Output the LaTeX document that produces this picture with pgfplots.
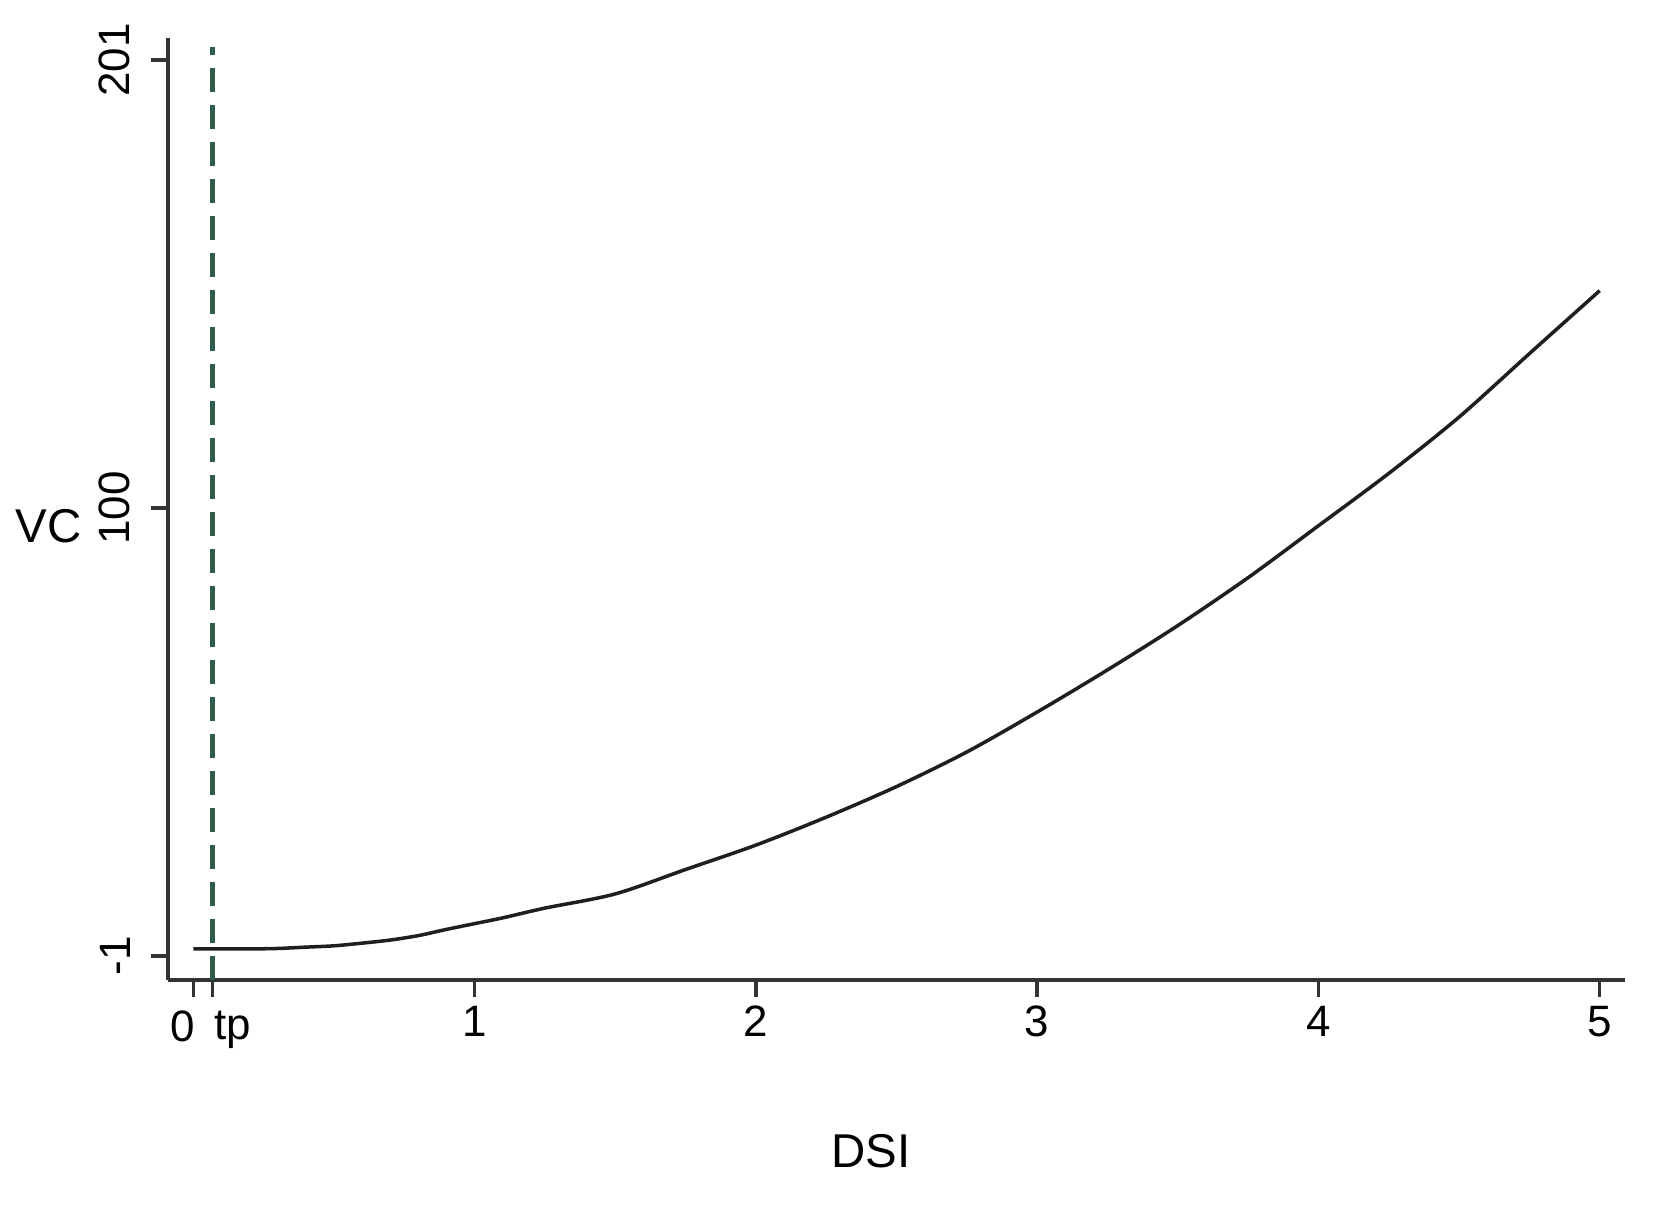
\documentclass[border=0pt]{standalone}
\usepackage{fontspec}
\setmainfont{Liberation Sans}
\usepackage{pgfplots}
\pgfplotsset{compat=1.18}
\definecolor{tpgreen}{HTML}{2F5D4A}
\definecolor{axgray}{HTML}{333333}

\begin{document}
\begin{tikzpicture}
\begin{axis}[
  at={(0,0)}, anchor=south west,
  scale only axis,
  width=14.57cm, height=9.42cm,
  xmin=-0.09, xmax=5.09,
  ymin=-6.41, ymax=205.96,
  axis lines=left,
  axis line style={axgray, line width=1pt, -},
  xtick={1,2,3,4,5},
  ytick={-1,100,201},
  extra x ticks={0,0.068},
  extra x tick labels={},
  tick align=outside,
  major tick length=0.17cm,
  tick style={axgray, line width=1pt},
  /pgf/number format/assume math mode=true,
  ticklabel style={font=\fontsize{12.5}{14}\selectfont},
  xticklabel style={yshift=1pt},
  yticklabel style={rotate=90, anchor=south, inner sep=0.2cm},
  clip=false,
]
% vertical reference line at the turning point
\addplot[tpgreen, line width=1.5pt, dash pattern=on 0.24cm off 0.13cm] coordinates {
  (0.068,-6.41) (0.068,204)
};
% fitted curve
\addplot[black!88, line width=1pt, smooth] coordinates {
  (0,0.6) (0.1,0.6) (0.2,0.6) (0.3,0.7) (0.4,1.0) (0.5,1.3)
  (0.6,1.9) (0.7,2.6) (0.8,3.6) (0.9,5.0) (1.0,6.3) (1.1,7.6)
  (1.25,9.8) (1.5,13.0) (1.75,18.5) (2.0,24.0) (2.25,30.3)
  (2.5,37.2) (2.75,45.0) (3.0,54.0) (3.25,63.5) (3.5,73.5)
  (3.75,84.3) (4.0,96.0) (4.25,107.8) (4.5,120.5) (4.75,134.8)
  (5.0,149.0)
};
\node[anchor=north, font=\fontsize{12.5}{14}\selectfont, inner sep=0pt]
  at ([xshift=-0.11cm, yshift=-0.3cm]axis cs:0,-6.41) {0};
\node[anchor=north, font=\fontsize{12.5}{14}\selectfont, inner sep=0pt]
  at ([xshift=0.2cm, yshift=-0.3cm]axis cs:0.068,-6.41) {tp};
\node[font=\fontsize{13.5}{15}\selectfont] at (rel axis cs:-0.082,0.482) {VC};
\node[font=\fontsize{13.5}{15}\selectfont] at (rel axis cs:0.4825,-0.182) {DSI};
\end{axis}
\path[use as bounding box] (-1.68,-2.31) rectangle (14.91,9.80);
\end{tikzpicture}
\end{document}
